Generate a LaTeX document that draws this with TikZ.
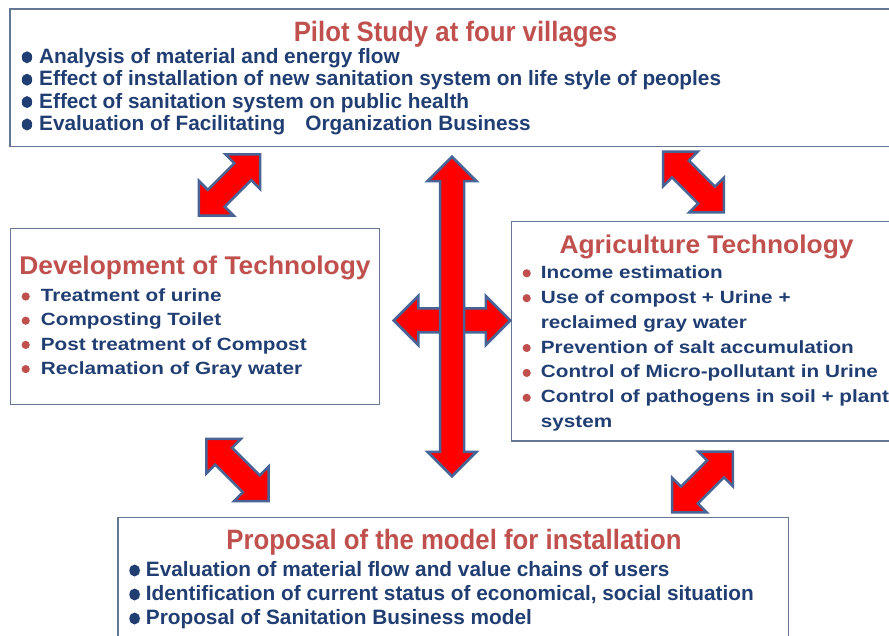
\documentclass[tikz,border=0pt]{standalone}
\usepackage{fontspec}
\setmainfont{Liberation Sans}
\newfontfamily\narrowfont{Liberation Sans}[FakeStretch=0.92]
\newfontfamily\sidefont{Liberation Sans}[FakeStretch=1.03]
\newfontfamily\widefont{Liberation Sans}[FakeStretch=1.17]
\usetikzlibrary{shapes.arrows}
\definecolor{ttlred}{RGB}{192,80,77}
\definecolor{itemblue}{RGB}{33,62,115}
\definecolor{boxline}{RGB}{100,120,150}
\definecolor{arrowline}{RGB}{72,100,150}

\begin{document}
\begin{tikzpicture}[x=1pt, y=-1pt,
  box/.style={draw=boxline, line width=1.3pt, inner sep=0pt},
  bigttl/.style={anchor=base, inner sep=0pt, text=ttlred, font=\narrowfont\bfseries\fontsize{28}{30}\selectfont},
  sidettl/.style={anchor=base, inner sep=0pt, text=ttlred, font=\sidefont\bfseries\fontsize{25.6}{28}\selectfont},
  bigitem/.style={anchor=base west, inner sep=0pt, text=itemblue, font=\bfseries\fontsize{20.8}{22}\selectfont},
  sideitem/.style={anchor=base west, inner sep=0pt, text=itemblue, font=\widefont\bfseries\fontsize{17.7}{20}\selectfont},
  darrow/.style={double arrow, fill=red, draw=arrowline, line width=2.5pt, inner sep=10.75pt,
    double arrow head extend=12.5pt, minimum height=#1}]
\clip (0,0) rectangle (889,636);
% boxes
\node[box, minimum width=890, minimum height=137.7] (pilot) at (455,77.85) {};
\node[box, minimum width=368.6, minimum height=176] (devel) at (195,316.3) {};
\node[box, minimum width=393.3, minimum height=219.3] (agri) at (708.35,331.35) {};
\node[box, minimum width=670.6, minimum height=132.7] (prop) at (453.3,583.65) {};
% titles
\node[bigttl] (pilotttl) at (455.5,41.7) {Pilot Study at four villages};
\node[sidettl] (develttl) at (195,275) {Development of Technology};
\node[sidettl] (agrittl) at (706.5,253.3) {Agriculture Technology};
\node[bigttl] (propttl) at (454,549.3) {Proposal of the model for installation};
% pilot study items
\foreach \t [count=\i] in {Analysis of material and energy flow,
  Effect of installation of new sanitation system on life style of peoples,
  Effect of sanitation system on public health,
  Evaluation of Facilitating\hspace{20pt}Organization Business}
{
  \node[bigitem] (pilot\i) at (39,{63.5+22.4*(\i-1)}) {\t};
  \fill[itemblue] (27,{57.3+22.4*(\i-1)}) ellipse (5.2 and 6);
}
% development items
\foreach \t [count=\i] in {Treatment of urine, Composting Toilet,
  Post treatment of Compost, Reclamation of Gray water}
{
  \node[sideitem] (devel\i) at (40.7,{301.8+24.2*(\i-1)}) {\t};
  \fill[ttlred] (25.7,{296.5+24.2*(\i-1)}) circle (4.1);
}
% agriculture items, 1 = with bullet
\foreach \t/\b [count=\i] in {Income estimation/1, Use of compost + Urine +/1,
  reclaimed gray water/0, Prevention of salt accumulation/1,
  Control of Micro-pollutant in Urine/1, Control of pathogens in soil + plant/1,
  system/0}
{
  \node[sideitem] (agri\i) at (540.7,{278.3+24.9*(\i-1)}) {\t};
  \ifnum\b=1 \fill[ttlred] (526.7,{273.3+24.9*(\i-1)}) circle (4.1); \fi
}
% proposal items
\foreach \t [count=\i] in {Evaluation of material flow and value chains of users,
  {Identification of current status of economical, social situation},
  Proposal of Sanitation Business model}
{
  \node[bigitem] (prop\i) at (145.7,{576.7+24*(\i-1)}) {\t};
  \fill[itemblue] (134.6,{570.5+24*(\i-1)}) ellipse (5.2 and 6);
}
% arrows
\node[darrow=116.5] (across) at (452,320.5) {};
\node[darrow=319.5, rotate=90] (updown) at (452,316.5) {};
\node[darrow=86.5, rotate=45] (pd) at (229.5,185) {};
\node[darrow=86, rotate=-45] (pa) at (693.5,182) {};
\node[darrow=88, rotate=-45] (dp) at (237.5,470) {};
\node[darrow=86, rotate=45] (ap) at (702.5,482) {};
\end{tikzpicture}
\end{document}
